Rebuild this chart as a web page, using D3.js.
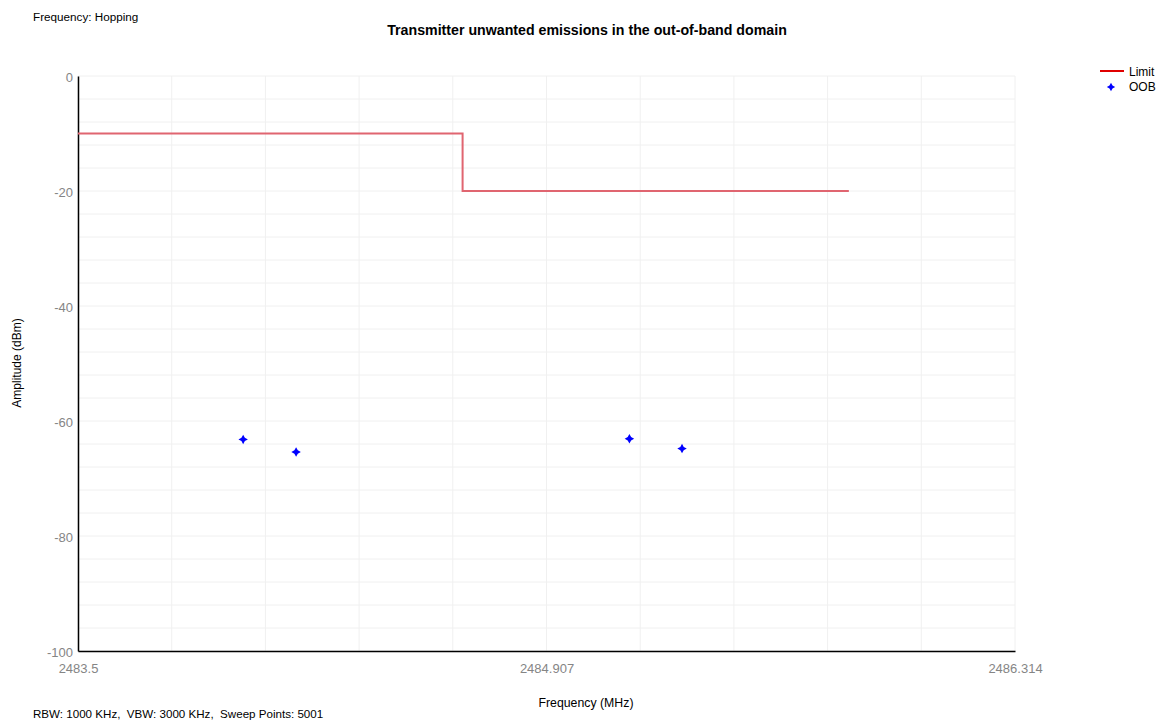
<!DOCTYPE html>
<html>
<head>
<meta charset="utf-8">
<script src="https://cdn.jsdelivr.net/npm/d3@7"></script>
<style>
  html, body { margin: 0; padding: 0; background: #fff; }
  svg { display: block; font-family: "Liberation Sans", Arial, sans-serif; }
</style>
</head>
<body>
<svg id="chart" width="1164" height="720"></svg>
<script>
// ---- data ----
const title = "Transmitter unwanted emissions in the out-of-band domain";
const topNote = "Frequency: Hopping";
const bottomNote = "RBW: 1000 KHz,  VBW: 3000 KHz,  Sweep Points: 5001";
const xLabel = "Frequency (MHz)";
const yLabel = "Amplitude (dBm)";

const xTicks = [2483.5, 2484.907, 2486.314];
const xTickLabels = ["2483.5", "2484.907", "2486.314"];
const yTicks = [0, -20, -40, -60, -80, -100];
const yTickLabels = ["0", "-20", "-40", "-60", "-80", "-100"];

const limitFreq = [2483.5, 2484.655, 2484.655, 2485.815];
const limitAmp  = [-10, -10, -20, -20];

const oobFreq = [2483.996, 2484.155, 2485.156, 2485.314];
const oobAmp  = [-63.2, -65.4, -63.1, -64.8];

const legendNames = ["Limit", "OOB"];

// ---- layout ----
const svg = d3.select("#chart");
const pLeft = 78, pRight = 1015, pTop = 76, pBottom = 651;

const x = d3.scaleLinear().domain([2483.5, 2486.314]).range([pLeft, pRight]);
const y = d3.scaleLinear().domain([-100, 0]).range([pBottom, pTop]);

// grid
const xGrid = d3.range(0, 11).map(i => 2483.5 + i * (2486.314 - 2483.5) / 10);
const yGrid = d3.range(0, 26).map(i => -i * 4);

svg.append("g").selectAll("line").data(xGrid).join("line")
  .attr("x1", d => x(d)).attr("x2", d => x(d))
  .attr("y1", pTop).attr("y2", pBottom)
  .attr("stroke", "#f0f0f0").attr("stroke-width", 1);
svg.append("g").selectAll("line").data(yGrid).join("line")
  .attr("x1", pLeft).attr("x2", pRight)
  .attr("y1", d => y(d)).attr("y2", d => y(d))
  .attr("stroke", "#f0f0f0").attr("stroke-width", 1);

// axes
const yAxis = d3.axisLeft(y).tickValues(yTicks).tickSize(0).tickPadding(5)
  .tickFormat((d, i) => yTickLabels[i]);
const gy = svg.append("g").attr("transform", `translate(${pLeft},0)`).call(yAxis);
gy.select(".domain").attr("stroke", "#000").attr("stroke-width", 1.5);
gy.selectAll("text").attr("fill", "#858585").style("font-size", "13px")
  .style("font-family", "'Liberation Sans', Arial, sans-serif").attr("dy", "0.4em");

const xAxis = d3.axisBottom(x).tickValues(xTicks).tickSize(0).tickPadding(13)
  .tickFormat((d, i) => xTickLabels[i]);
const gx = svg.append("g").attr("transform", `translate(0,${pBottom})`).call(xAxis);
gx.select(".domain").attr("stroke", "#000").attr("stroke-width", 1.5);
gx.selectAll("text").attr("fill", "#858585").style("font-size", "13px")
  .style("font-family", "'Liberation Sans', Arial, sans-serif");

// limit line
const limitData = limitFreq.map((f, i) => [f, limitAmp[i]]);
svg.append("path")
  .datum(limitData)
  .attr("fill", "none")
  .attr("stroke", "#e06570")
  .attr("stroke-width", 2)
  .attr("d", d3.line().x(d => x(d[0])).y(d => y(d[1])));

// star symbol
const star4 = {
  draw(ctx, size) {
    const r = Math.sqrt(size) / 2, q = r * 0.36;
    ctx.moveTo(0, -r);
    ctx.lineTo(q, -q);
    ctx.lineTo(r, 0);
    ctx.lineTo(q, q);
    ctx.lineTo(0, r);
    ctx.lineTo(-q, q);
    ctx.lineTo(-r, 0);
    ctx.lineTo(-q, -q);
    ctx.closePath();
  }
};
const oobData = oobFreq.map((f, i) => [f, oobAmp[i]]);
svg.append("g").selectAll("path").data(oobData).join("path")
  .attr("transform", d => `translate(${x(d[0])},${y(d[1])})`)
  .attr("d", d3.symbol().type(star4).size(90))
  .attr("fill", "#0000ff");

// texts
svg.append("text").attr("x", 587).attr("y", 35).attr("text-anchor", "middle")
  .style("font-size", "14.2px").style("font-weight", "bold").attr("fill", "#000").text(title);
svg.append("text").attr("x", 33).attr("y", 21)
  .style("font-size", "11.7px").attr("fill", "#000").text(topNote);
svg.append("text").attr("x", 33).attr("y", 718).style("white-space", "pre")
  .style("font-size", "11.6px").attr("fill", "#000").text(bottomNote);
svg.append("text").attr("x", 586).attr("y", 707).attr("text-anchor", "middle")
  .style("font-size", "12.3px").attr("fill", "#000").text(xLabel);
svg.append("text").attr("transform", "translate(21,363) rotate(-90)").attr("text-anchor", "middle")
  .style("font-size", "12px").attr("fill", "#000").text(yLabel);

// legend
const lg = svg.append("g");
lg.append("line").attr("x1", 1100).attr("x2", 1124).attr("y1", 71).attr("y2", 71)
  .attr("stroke", "#e00000").attr("stroke-width", 2);
lg.append("path").attr("transform", "translate(1111,87)")
  .attr("d", d3.symbol().type(star4).size(70)).attr("fill", "#0000ff");
lg.selectAll("text.lbl").data(legendNames).join("text").attr("class", "lbl")
  .attr("x", 1129).attr("y", (d, i) => 76 + i * 15)
  .style("font-size", "12px").attr("fill", "#000").text(d => d);
</script>
</body>
</html>
